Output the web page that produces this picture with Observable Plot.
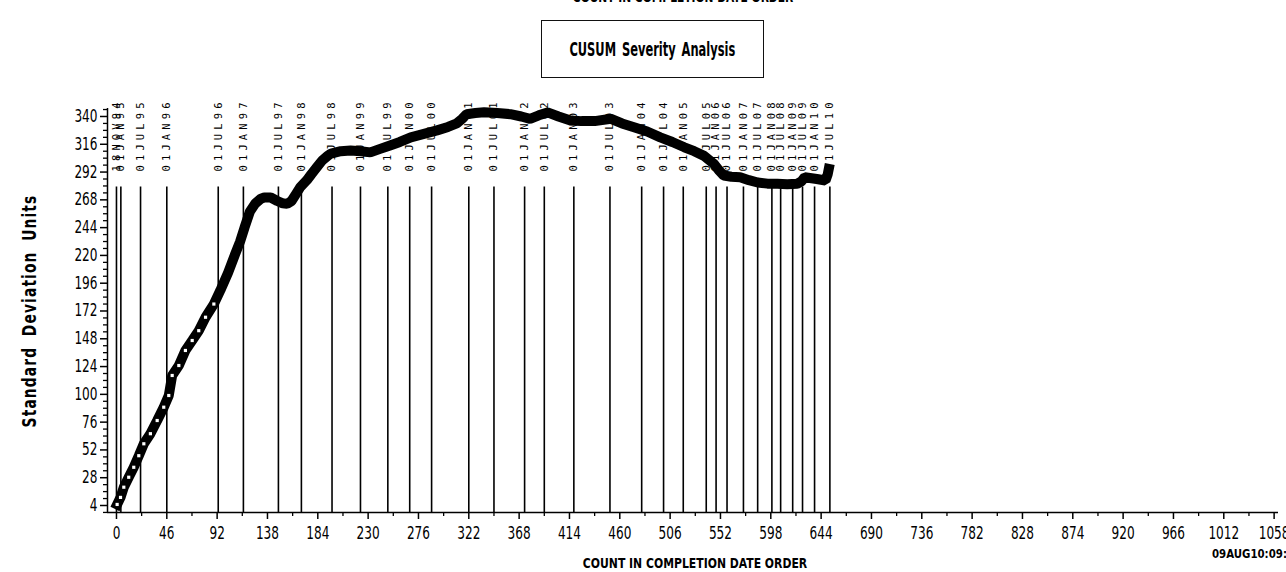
<!DOCTYPE html>
<html>
<head>
<meta charset="utf-8">
<script src="https://cdn.jsdelivr.net/npm/d3@7"></script>
<script src="https://cdn.jsdelivr.net/npm/@observablehq/plot@0.6"></script>
<style>
  html, body { margin: 0; padding: 0; background: white; overflow: hidden; }
  #wrap { position: relative; width: 1286px; height: 572px; overflow: hidden; background: white; }
  #chart { position: absolute; left: 0; top: 0; }
  .ov { position: absolute; white-space: nowrap; color: black; line-height: 1;
        font-family: "DejaVu Sans Condensed", "Liberation Sans", sans-serif; font-weight: bold; }
  #titlebox { left: 541px; top: 20px; width: 221px; height: 56px; border: 1.5px solid #111;
              display: flex; align-items: center; justify-content: center; }
  #titletext { font-size: 20px; display: inline-block; word-spacing: 3px; }
  #toplabel { left: 683px; top: -10px; font-size: 14.6px; }
  #xlabel { left: 695px; top: 556px; font-size: 14.6px; }
  #stamp { left: 1212px; top: 547px; font-size: 13px; transform-origin: 0 50%; }
  #ylabel { left: 29px; top: 311px; font-size: 20px; letter-spacing: 1.5px; word-spacing: 6px; }
</style>
</head>
<body>
<div id="wrap">
  <div id="chart"></div>
  <div class="ov" id="toplabel">COUNT IN COMPLETION DATE ORDER</div>
  <div class="ov" id="titlebox"><span id="titletext">CUSUM  Severity  Analysis</span></div>
  <div class="ov" id="ylabel">Standard Deviation Units</div>
  <div class="ov" id="xlabel">COUNT IN COMPLETION DATE ORDER</div>
  <div class="ov" id="stamp">09AUG10:09:32</div>
</div>
<script>
// ---- Data ----
const countX = [0.6, 3.7, 6.7, 11.2, 15.8, 20.4, 25, 31, 37.2, 43.2, 47.8, 50.9, 57, 63, 69.2, 75.2, 81.4, 89,
  95, 102, 108, 113, 117, 122, 127, 132, 135, 141, 147, 152, 156, 160, 164, 168, 174, 178, 183, 188, 193, 196,
  205, 214, 223, 232, 241, 250, 259, 269, 281, 293, 303, 311, 316, 320, 328, 336, 348, 360, 370, 378, 386, 394,
  404, 415, 425, 437, 452, 462, 473, 485, 497, 508, 519, 528, 537, 546, 551, 555, 562, 570, 578, 586, 595, 604,
  613, 622, 626, 629, 640, 648, 650, 651];
const cusum = [4.9, 11, 19.8, 28.4, 37, 47, 57.3, 66, 77.4, 88.9, 99, 116.3, 124.9, 137.9, 146.5, 155, 166.6, 178,
  190, 205, 220, 232, 244, 258, 265, 269, 270, 270, 267, 265, 264.5, 267, 273, 279, 285, 290, 296, 302, 306, 308,
  310, 310.6, 310, 309, 312, 315, 318, 322, 325, 328, 331, 334, 338, 342, 343, 343.6, 343, 342, 340, 338, 341, 343.5,
  340, 336.5, 336, 336, 338, 334, 330.7, 327, 322, 318, 313.4, 310, 306, 299, 293, 289, 288, 287.5, 285, 283, 282, 281.8,
  281.5, 281.8, 284, 287.5, 286, 284.7, 290, 294.8];

const refCounts = [0, 4, 22, 46, 93, 116, 148, 169, 197, 223, 248, 268, 288, 322, 345, 373, 391, 418, 451, 480, 500,
  518, 539, 548, 558, 573, 586, 599, 607, 618, 627, 638, 652];
const refLabels = ["18NOV94", "01JAN95", "01JUL95", "01JAN96", "01JUL96", "01JAN97", "01JUL97", "01JAN98", "01JUL98",
  "01JAN99", "01JUL99", "01JAN00", "01JUL00", "01JAN01", "01JUL01", "01JAN02", "01JUL02", "01JAN03", "01JUL03",
  "01JAN04", "01JUL04", "01JAN05", "01JUL05", "01JAN06", "01JUL06", "01JAN07", "01JUL07", "01JAN08", "01JUL08",
  "01JAN09", "01JUL09", "01JAN10", "01JUL10"];

const xTicks = [0, 46, 92, 138, 184, 230, 276, 322, 368, 414, 460, 506, 552, 598, 644, 690, 736, 782, 828, 874, 920, 966, 1012, 1058];
const xMinorTicks = [23, 69, 115, 161, 207, 253, 299, 345, 391, 437, 483, 529, 575, 621, 667, 713, 759, 805, 851, 897, 943, 989, 1035];
const yTicks = [4, 28, 52, 76, 100, 124, 148, 172, 196, 220, 244, 268, 292, 316, 340];
const yMinorTicks = [-2, 10, 16, 22, 34, 40, 46, 58, 64, 70, 82, 88, 94, 106, 112, 118, 130, 136, 142, 154, 160, 166,
  178, 184, 190, 202, 208, 214, 226, 232, 238, 250, 256, 262, 274, 280, 286, 298, 304, 310, 322, 328, 334, 346];

// ---- Build tables ----
const series = countX.map((x, i) => ({x, y: cusum[i]}));
const lowerSeries = series.filter(d => d.x < 92);
const refs = refCounts.map((x, i) => ({x, label: refLabels[i]}));

const X0 = -8.2, X1 = 1062, Y0 = -2.05, Y1 = 346.9;
const tickFont = "'DejaVu Sans Condensed', 'Liberation Sans', sans-serif";

const chart = Plot.plot({
  width: 1286,
  height: 572,
  marginLeft: 107,
  marginRight: 8,
  marginTop: 108,
  marginBottom: 60,
  style: {background: "white", color: "black", fontFamily: tickFont},
  x: {domain: [X0, X1]},
  y: {domain: [Y0, Y1]},
  marks: [
    Plot.ruleX(refs, {x: "x", y1: Y0, y2: 279, stroke: "black", strokeWidth: 1.6}),
    Plot.text(refs, {x: "x", y: 292.5, text: "label", rotate: -90, textAnchor: "start",
      fontSize: 10.5, fontFamily: "DejaVu Sans Mono", fill: "black"}),
    Plot.line(series, {x: "x", y: "y", stroke: "black", strokeWidth: 10, strokeLinejoin: "miter", strokeLinecap: "square"}),
    Plot.dot(lowerSeries, {x: "x", y: "y", symbol: "square", r: 1.8, fill: "white", stroke: "none"}),
    Plot.ruleX([X0], {stroke: "black", strokeWidth: 1.5}),
    Plot.ruleY([Y0], {stroke: "black", strokeWidth: 1.5}),
    Plot.axisX({ticks: xTicks, tickSize: 7, tickPadding: 7, fontSize: 17, tickFormat: "d", label: null, strokeWidth: 1.5}),
    Plot.axisX({ticks: xMinorTicks, tickSize: 4, tickFormat: () => "", label: null, strokeWidth: 1.3}),
    Plot.axisY({ticks: yTicks, tickSize: 7, tickPadding: 3, fontSize: 17, tickFormat: "d", label: null, strokeWidth: 1.5}),
    Plot.axisY({ticks: yMinorTicks, tickSize: 4, tickFormat: () => "", label: null, strokeWidth: 1.3})
  ]
});
document.getElementById("chart").appendChild(chart);

// ---- Typographic fitting to match the condensed SAS fonts ----
const labelSet = new Set(refLabels);
const tickSet = new Set([...xTicks, ...yTicks].map(String));
chart.querySelectorAll("text").forEach(t => {
  const s = t.textContent;
  if (labelSet.has(s)) {
    t.setAttribute("textLength", "69");
    t.setAttribute("lengthAdjust", "spacing");
  } else if (tickSet.has(s)) {
    const w = t.getBBox().width;
    const target = 7.7 * s.length;
    const tr = t.getAttribute("transform");
    if (w > 0 && tr && !t.hasAttribute("x")) t.setAttribute("transform", `${tr} scale(${target / w},1)`);
  }
});
function fit(id, target, base) {
  const el = document.getElementById(id);
  const k = target / el.offsetWidth;
  el.style.transform = `${base} scaleX(${k})`;
}
fit("titletext", 166, "");
fit("toplabel", 220, "translateX(-50%)");
fit("xlabel", 224, "translateX(-50%)");
fit("stamp", 89, "");
fit("ylabel", 233, "translate(-50%, -50%) rotate(-90deg)");
</script>
</body>
</html>
